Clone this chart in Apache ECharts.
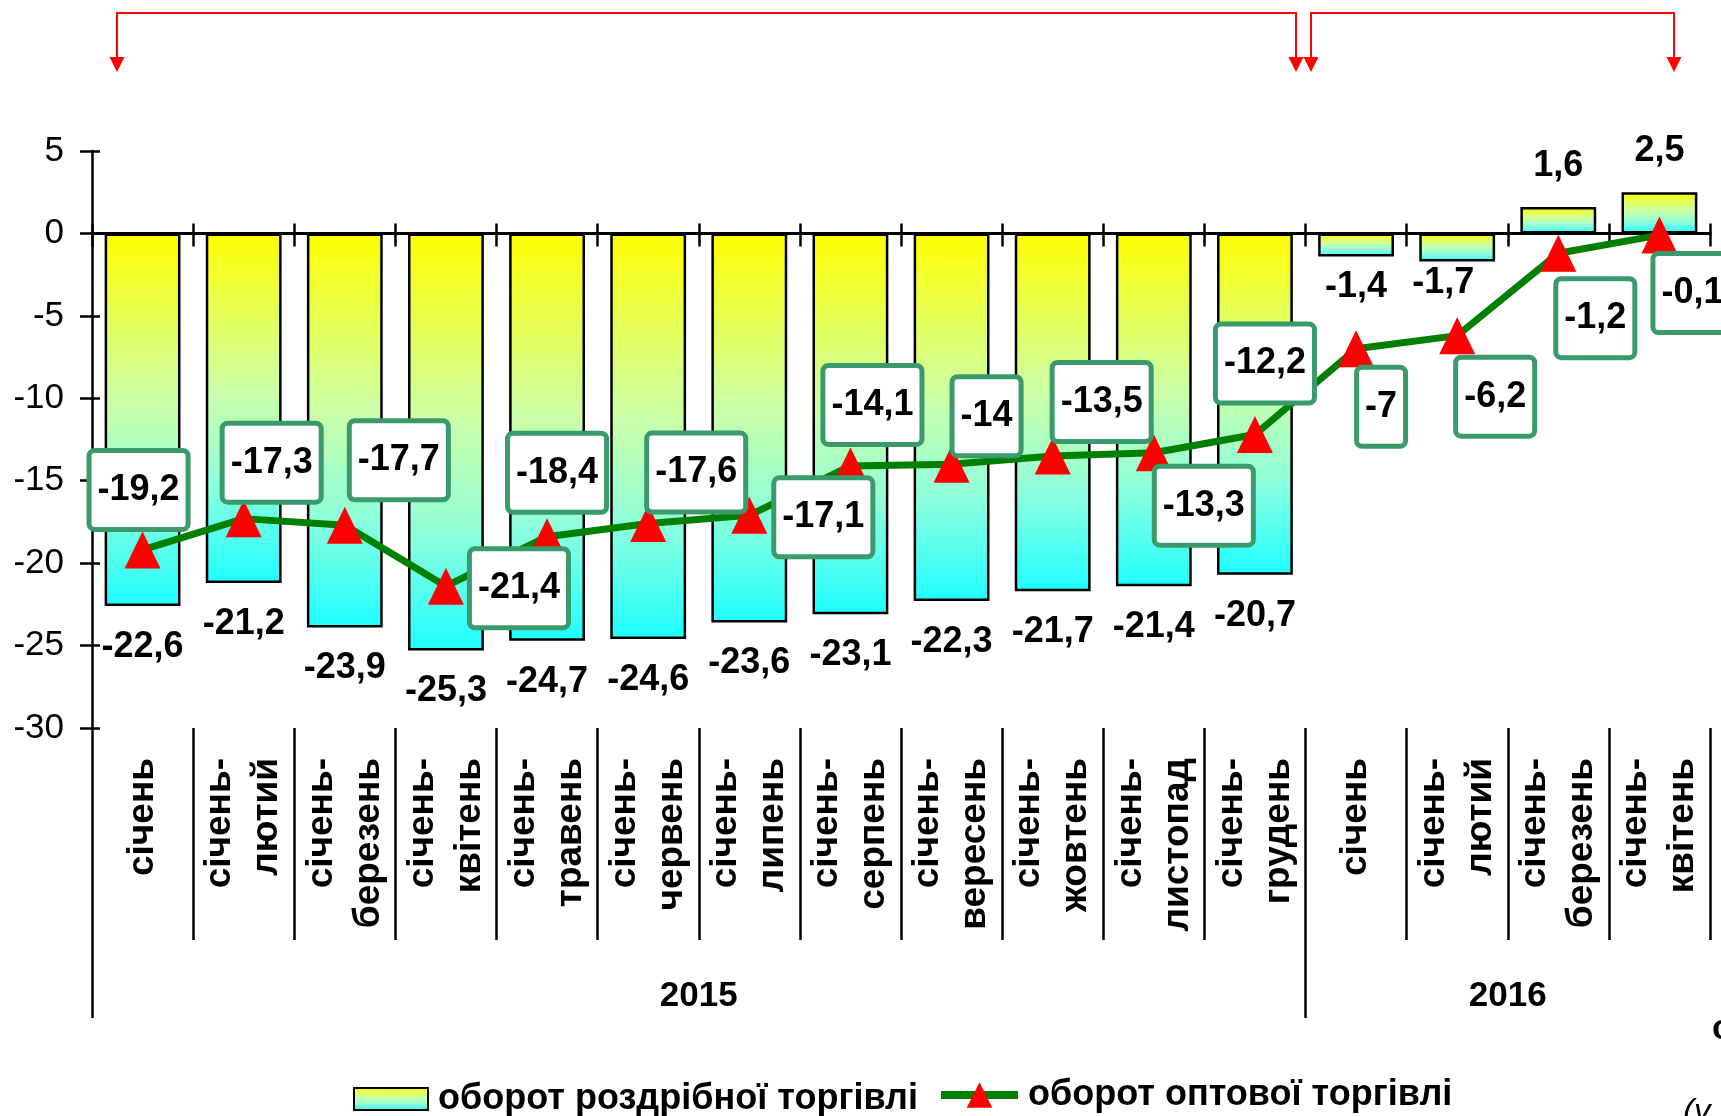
<!DOCTYPE html>
<html>
<head>
<meta charset="utf-8">
<script src="https://cdn.jsdelivr.net/npm/echarts@6/dist/echarts.min.js"></script>
<style>
  html, body { margin: 0; padding: 0; background: #ffffff; }
  #chart { width: 1721px; height: 1116px; }
</style>
</head>
<body>
<div id="chart"></div>
<script>
// Periods (cumulative from January), two years
const periods = [
  'січень', 'січень-\nлютий', 'січень-\nберезень', 'січень-\nквітень',
  'січень-\nтравень', 'січень-\nчервень', 'січень-\nлипень', 'січень-\nсерпень',
  'січень-\nвересень', 'січень-\nжовтень', 'січень-\nлистопад', 'січень-\nгрудень',
  'січень', 'січень-\nлютий', 'січень-\nберезень', 'січень-\nквітень'
];
const years = ['2015', '2016'];
const yearSpans = [12, 4];

// Turnover change, %
const retail = [-22.6, -21.2, -23.9, -25.3, -24.7, -24.6, -23.6, -23.1, -22.3, -21.7, -21.4, -20.7, -1.4, -1.7, 1.6, 2.5];
const wholesale = [-19.2, -17.3, -17.7, -21.4, -18.4, -17.6, -17.1, -14.1, -14, -13.5, -13.3, -12.2, -7, -6.2, -1.2, -0.1];

const seriesNames = ['оборот роздрібної торгівлі', 'оборот оптової торгівлі'];
const yMin = -30, yMax = 5, yStep = 5;

// Label placement tweaks (pixels)
const retailLabelShift = [
  [0, 0], [0, 0], [0, 0], [0, 0], [0, 0], [0, 0], [0, 0], [0, 0],
  [0, 0], [0, 0], [0, 0], [0, 0], [0, -10], [-14, -19], [0, 0], [0, 0]
];
const wholesaleLabelShift = [
  [-4, -60], [28, -56], [54, -65], [73, 2], [10, -64], [48, -51], [74, 2], [22, -61],
  [35, -48], [49, -54], [50, 53], [10, -71], [25, 58], [38, 61], [37, 65], [33, 58]
];

const FONT = 'Arial, "Liberation Sans", Helvetica, sans-serif';
const fmt = v => String(v).replace('.', ',');

// year group boundaries (left edges) and centres, in category units
const yearStarts = [];
const yearCentres = {};
let acc = 0;
yearSpans.forEach((s, i) => {
  yearStarts.push(acc);
  yearCentres[acc + s / 2] = years[i];
  acc += s;
});

const barFill = () => new echarts.graphic.LinearGradient(0, 0, 0, 1, [
  { offset: 0, color: '#ffff00' },
  { offset: 0.45, color: '#ccffa8' },
  { offset: 0.72, color: '#8effdc' },
  { offset: 1, color: '#1effff' }
]);

const chart = echarts.init(document.getElementById('chart'), null, { renderer: 'canvas' });

const tickStyle = { color: '#000', width: 2.5 };
const legendText = { fontFamily: FONT, fontSize: 36, fontWeight: 'bold', color: '#000', padding: [0, 0, 0, 5] };

chart.setOption({
  animation: false,
  backgroundColor: '#ffffff',
  grid: { left: 92, right: 11, top: 151, bottom: 388, containLabel: false, outerBoundsMode: 'none' },
  legend: [
    {
      left: 348, top: 1076,
      itemWidth: 74, itemHeight: 22,
      textStyle: legendText,
      data: [{ name: seriesNames[0], icon: 'rect' }]
    },
    {
      left: 932, top: 1072,
      itemWidth: 77, itemHeight: 32,
      lineStyle: { width: 8, color: '#008000' },
      textStyle: legendText,
      data: [{ name: seriesNames[1] }]
    }
  ],
  xAxis: [
    { // zero line, ticks below
      type: 'category', data: periods, position: 'bottom',
      axisLine: { show: true, onZero: true, onZeroAxisIndex: 0, lineStyle: { color: '#000', width: 3 } },
      axisTick: { show: true, length: 13, lineStyle: tickStyle },
      axisLabel: { show: false }, splitLine: { show: false }
    },
    { // zero line, ticks above
      type: 'category', data: periods, position: 'bottom',
      axisLine: { show: true, onZero: true, onZeroAxisIndex: 0, lineStyle: { color: '#000', width: 3 } },
      axisTick: { show: true, inside: true, length: 10, lineStyle: tickStyle },
      axisLabel: { show: false }, splitLine: { show: false }
    },
    { // period labels with separators
      type: 'category', data: periods, position: 'bottom',
      axisLine: { show: false, onZero: false },
      axisTick: { show: true, length: 212, lineStyle: tickStyle },
      axisLabel: {
        show: true, interval: 0, rotate: 90, margin: 30,
        fontFamily: FONT, fontSize: 37, fontWeight: 'bold', lineHeight: 47, color: '#000'
      },
      splitLine: { show: false }
    },
    { // year separators and labels
      type: 'value', min: 0, max: periods.length, position: 'bottom',
      axisLine: { show: false, onZero: false },
      axisTick: { show: true, length: 290, lineStyle: tickStyle, customValues: yearStarts },
      splitLine: { show: false },
      axisLabel: {
        show: true, margin: 251,
        customValues: Object.keys(yearCentres).map(Number),
        fontFamily: FONT, fontSize: 35, fontWeight: 'bold', color: '#000',
        formatter: v => yearCentres[v] || ''
      }
    }
  ],
  yAxis: [
    {
      type: 'value', min: yMin, max: yMax, interval: yStep, position: 'left',
      axisLine: { show: true, onZero: false, lineStyle: { color: '#000', width: 2.5 } },
      axisTick: { show: true, length: 12, lineStyle: tickStyle },
      axisLabel: { fontFamily: FONT, fontSize: 35, color: '#000', margin: 28 },
      splitLine: { show: false }
    },
    {
      type: 'value', min: yMin, max: yMax, interval: yStep, position: 'left',
      axisLine: { show: false, onZero: false },
      axisTick: { show: true, inside: true, length: 8, lineStyle: tickStyle },
      axisLabel: { show: false },
      splitLine: { show: false }
    }
  ],
  series: [
    {
      name: seriesNames[0],
      type: 'bar',
      xAxisIndex: 0, yAxisIndex: 0,
      barWidth: '75%',
      itemStyle: { color: barFill(), borderColor: '#000', borderWidth: 2.5 },
      label: {
        show: true, distance: 23,
        fontFamily: FONT, fontSize: 36, fontWeight: 'bold', color: '#000',
        formatter: p => fmt(p.value)
      },
      data: retail.map((v, i) => ({
        value: v,
        label: { position: v < 0 ? 'bottom' : 'top', offset: retailLabelShift[i] }
      })),
      z: 2
    },
    {
      name: seriesNames[1],
      type: 'line',
      xAxisIndex: 0, yAxisIndex: 0,
      symbol: 'triangle',
      symbolSize: [36, 37],
      lineStyle: { color: '#008000', width: 7 },
      itemStyle: { color: '#ff0000' },
      label: {
        show: true, position: 'inside',
        fontFamily: FONT, fontSize: 36, fontWeight: 'bold', color: '#000', lineHeight: 40,
        backgroundColor: '#ffffff', borderColor: '#3a9a6c', borderWidth: 5, borderRadius: 3,
        padding: [17, 6],
        formatter: p => fmt(p.value)
      },
      data: wholesale.map((v, i) => ({ value: v, label: { offset: wholesaleLabelShift[i] } })),
      z: 3
    }
  ],
  graphic: [
    // period brackets above the plot
    { type: 'polyline', shape: { points: [[117, 58], [117, 13], [1296, 13], [1296, 58]] },
      style: { stroke: '#ff0000', lineWidth: 2, fill: null } },
    { type: 'polygon', shape: { points: [[109.5, 57], [124.5, 57], [117, 72]] }, style: { fill: '#ff0000' } },
    { type: 'polygon', shape: { points: [[1288.5, 57], [1303.5, 57], [1296, 72]] }, style: { fill: '#ff0000' } },
    { type: 'polyline', shape: { points: [[1311, 58], [1311, 13], [1674, 13], [1674, 58]] },
      style: { stroke: '#ff0000', lineWidth: 2, fill: null } },
    { type: 'polygon', shape: { points: [[1303.5, 57], [1318.5, 57], [1311, 72]] }, style: { fill: '#ff0000' } },
    { type: 'polygon', shape: { points: [[1666.5, 57], [1681.5, 57], [1674, 72]] }, style: { fill: '#ff0000' } },
    // notes at the right edge
    { type: 'text', left: 1712, top: 1012,
      style: { text: 'січень–квітень 2016 р.', font: 'bold 35px ' + FONT, fill: '#000' } },
    { type: 'text', left: 1683, top: 1096,
      style: { text: '(у % до відповідного періоду попереднього року)', font: 'italic 33px ' + FONT, fill: '#000' } }
  ]
});
</script>
</body>
</html>
